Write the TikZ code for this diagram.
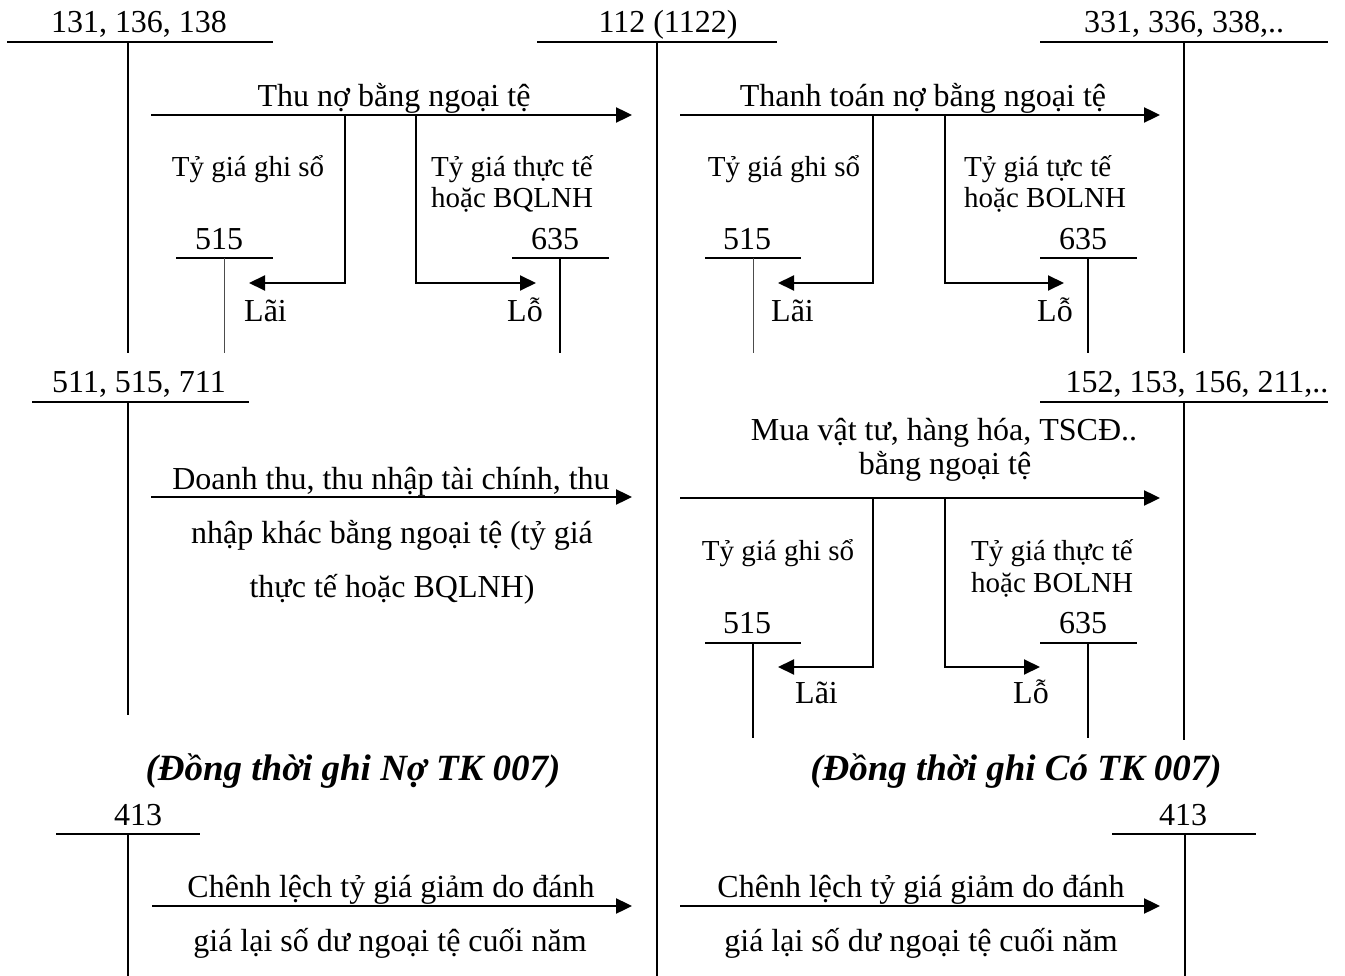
\documentclass[tikz,border=0pt]{standalone}
\usepackage{fontspec}
\setmainfont{Liberation Serif}
\usetikzlibrary{arrows.meta}

\begin{document}
\begin{tikzpicture}[x=1pt, y=-1pt,
    every node/.style={inner sep=0pt, anchor=base},
    lbl/.style={font=\fontsize{32}{36}\selectfont},
    rate/.style={font=\fontsize{29}{33}\selectfont},
    note/.style={font=\fontsize{37}{40}\selectfont\bfseries\itshape},
    tline/.style={line width=1.4pt},
    thin/.style={line width=0.6pt, draw=black!70},
    arr/.style={-{Triangle[length=16pt, width=15pt]}, line width=2.4pt},
    branch/.style={-{Triangle[length=16pt, width=15pt]}, line width=2pt}]
  \useasboundingbox (0,0) rectangle (1345,976);

  % T-accounts
  \node[lbl] (t131) at (139,33) {131, 136, 138};
  \coordinate (t131l) at (7,42);    \coordinate (t131r) at (273,42);
  \coordinate (t131t) at (128,42);  \coordinate (t131b) at (128,353);
  \draw[tline] (t131l) -- (t131r) (t131t) -- (t131b);

  \node[lbl] (t112) at (668,33) {112 (1122)};
  \coordinate (t112l) at (537,42);  \coordinate (t112r) at (777,42);
  \coordinate (t112t) at (657,42);  \coordinate (t112b) at (657,976);
  \draw[tline] (t112l) -- (t112r) (t112t) -- (t112b);

  \node[lbl] (t331) at (1184,33) {331, 336, 338,..};
  \coordinate (t331l) at (1040,42); \coordinate (t331r) at (1328,42);
  \coordinate (t331t) at (1184,42); \coordinate (t331b) at (1184,353);
  \draw[tline] (t331l) -- (t331r) (t331t) -- (t331b);

  \node[lbl] (t511) at (139,393) {511, 515, 711};
  \coordinate (t511l) at (32,402);  \coordinate (t511r) at (249,402);
  \coordinate (t511t) at (128,402); \coordinate (t511b) at (128,715);
  \draw[tline] (t511l) -- (t511r) (t511t) -- (t511b);

  \node[lbl] (t152) at (1197,393) {152, 153, 156, 211,..};
  \coordinate (t152l) at (1040,402); \coordinate (t152r) at (1328,402);
  \coordinate (t152t) at (1184,402); \coordinate (t152b) at (1184,740);
  \draw[tline] (t152l) -- (t152r) (t152t) -- (t152b);

  \node[lbl] (t413a) at (138,825) {413};
  \coordinate (t413al) at (56,834);  \coordinate (t413ar) at (200,834);
  \coordinate (t413at) at (128,834); \coordinate (t413ab) at (128,976);
  \draw[tline] (t413al) -- (t413ar) (t413at) -- (t413ab);

  \node[lbl] (t413b) at (1183,825) {413};
  \coordinate (t413bl) at (1112,834); \coordinate (t413br) at (1256,834);
  \coordinate (t413bt) at (1185,834); \coordinate (t413bb) at (1185,976);
  \draw[tline] (t413bl) -- (t413br) (t413bt) -- (t413bb);

  % sub-accounts 515 / 635
  \node[lbl] (t515a) at (219,250) {515};
  \coordinate (t515al) at (176,258); \coordinate (t515ar) at (273,258);
  \coordinate (t515at) at (224,258); \coordinate (t515ab) at (224,353);
  \draw[tline] (t515al) -- (t515ar);
  \draw[thin] (t515at) -- (t515ab);

  \node[lbl] (t635a) at (555,250) {635};
  \coordinate (t635al) at (512,258); \coordinate (t635ar) at (609,258);
  \coordinate (t635at) at (560,258); \coordinate (t635ab) at (560,353);
  \draw[tline] (t635al) -- (t635ar) (t635at) -- (t635ab);

  \node[lbl] (t515b) at (747,250) {515};
  \coordinate (t515bl) at (705,258); \coordinate (t515br) at (801,258);
  \coordinate (t515bt) at (753,258); \coordinate (t515bb) at (753,353);
  \draw[tline] (t515bl) -- (t515br);
  \draw[thin] (t515bt) -- (t515bb);

  \node[lbl] (t635b) at (1083,250) {635};
  \coordinate (t635bl) at (1040,258); \coordinate (t635br) at (1137,258);
  \coordinate (t635bt) at (1088,258); \coordinate (t635bb) at (1088,353);
  \draw[tline] (t635bl) -- (t635br) (t635bt) -- (t635bb);

  \node[lbl] (t515c) at (747,633) {515};
  \coordinate (t515cl) at (705,643); \coordinate (t515cr) at (801,643);
  \coordinate (t515ct) at (753,643); \coordinate (t515cb) at (753,738);
  \draw[tline] (t515cl) -- (t515cr) (t515ct) -- (t515cb);

  \node[lbl] (t635c) at (1083,633) {635};
  \coordinate (t635cl) at (1040,643); \coordinate (t635cr) at (1137,643);
  \coordinate (t635ct) at (1088,643); \coordinate (t635cb) at (1088,738);
  \draw[tline] (t635cl) -- (t635cr) (t635ct) -- (t635cb);

  % collections
  \coordinate (a1s) at (151,115); \coordinate (a1e) at (632,115);
  \coordinate (a1p) at (345,115); \coordinate (lai1) at (249,283);
  \coordinate (a1q) at (416,115); \coordinate (lo1) at (536,283);
  \draw[arr] (a1s) -- (a1e);
  \draw[branch] (a1p) |- (lai1);
  \draw[branch] (a1q) |- (lo1);
  \node[lbl] (thuno) at (394,107) {Thu nợ bằng ngoại tệ};
  \node[rate] (ghiso1) at (248,177) {Tỷ giá ghi sổ};
  \node[rate, anchor=base west] (thucte1) at (431,177) {Tỷ giá thực tế};
  \node[rate, anchor=base west] (bq1) at (431,208) {hoặc BQLNH};
  \node[lbl, anchor=base west] (lailbl1) at (244,322) {Lãi};
  \node[lbl, anchor=base west] (lolbl1) at (507,322) {Lỗ};

  % payments
  \coordinate (a2s) at (680,115); \coordinate (a2e) at (1160,115);
  \coordinate (a2p) at (873,115); \coordinate (lai2) at (778,283);
  \coordinate (a2q) at (945,115); \coordinate (lo2) at (1064,283);
  \draw[arr] (a2s) -- (a2e);
  \draw[branch] (a2p) |- (lai2);
  \draw[branch] (a2q) |- (lo2);
  \node[lbl] (thanhtoan) at (923,107) {Thanh toán nợ bằng ngoại tệ};
  \node[rate] (ghiso2) at (784,177) {Tỷ giá ghi sổ};
  \node[rate, anchor=base west] (thucte2) at (964,177) {Tỷ giá tực tế};
  \node[rate, anchor=base west] (bq2) at (964,208) {hoặc BOLNH};
  \node[lbl, anchor=base west] (lailbl2) at (771,322) {Lãi};
  \node[lbl, anchor=base west] (lolbl2) at (1037,322) {Lỗ};

  % revenue
  \coordinate (a3s) at (151,497); \coordinate (a3e) at (632,497);
  \draw[arr] (a3s) -- (a3e);
  \node[lbl] (doanh1) at (391,489) {Doanh thu, thu nhập tài chính, thu};
  \node[lbl] (doanh2) at (392,543) {nhập khác bằng ngoại tệ (tỷ giá};
  \node[lbl] (doanh3) at (392,597) {thực tế hoặc BQLNH)};

  % purchases
  \coordinate (a4s) at (680,498); \coordinate (a4e) at (1160,498);
  \coordinate (a4p) at (873,498); \coordinate (lai4) at (778,667);
  \coordinate (a4q) at (945,498); \coordinate (lo4) at (1040,667);
  \draw[arr] (a4s) -- (a4e);
  \draw[branch] (a4p) |- (lai4);
  \draw[branch] (a4q) |- (lo4);
  \node[lbl] (mua1) at (944,440) {Mua vật tư, hàng hóa, TSCĐ..};
  \node[lbl] (mua2) at (945,475) {bằng ngoại tệ};
  \node[rate] (ghiso4) at (778,560) {Tỷ giá ghi sổ};
  \node[rate, anchor=base west] (thucte4) at (971,560) {Tỷ giá thực tế};
  \node[rate, anchor=base west] (bq4) at (971,592) {hoặc BOLNH};
  \node[lbl, anchor=base west] (lailbl4) at (795,703) {Lãi};
  \node[lbl, anchor=base west] (lolbl4) at (1013,703) {Lỗ};

  % off-balance notes
  \node[note] (noteno) at (353,780) {(Đồng thời ghi Nợ TK 007)};
  \node[note] (noteco) at (1016,780) {(Đồng thời ghi Có TK 007)};

  % revaluation
  \coordinate (a5s) at (152,906); \coordinate (a5e) at (632,906);
  \draw[arr] (a5s) -- (a5e);
  \node[lbl] (chenh1) at (391,897) {Chênh lệch tỷ giá giảm do đánh};
  \node[lbl] (chenh1b) at (390,951) {giá lại số dư ngoại tệ cuối năm};

  \coordinate (a6s) at (680,906); \coordinate (a6e) at (1160,906);
  \draw[arr] (a6s) -- (a6e);
  \node[lbl] (chenh2) at (921,897) {Chênh lệch tỷ giá giảm do đánh};
  \node[lbl] (chenh2b) at (921,951) {giá lại số dư ngoại tệ cuối năm};
\end{tikzpicture}
\end{document}
